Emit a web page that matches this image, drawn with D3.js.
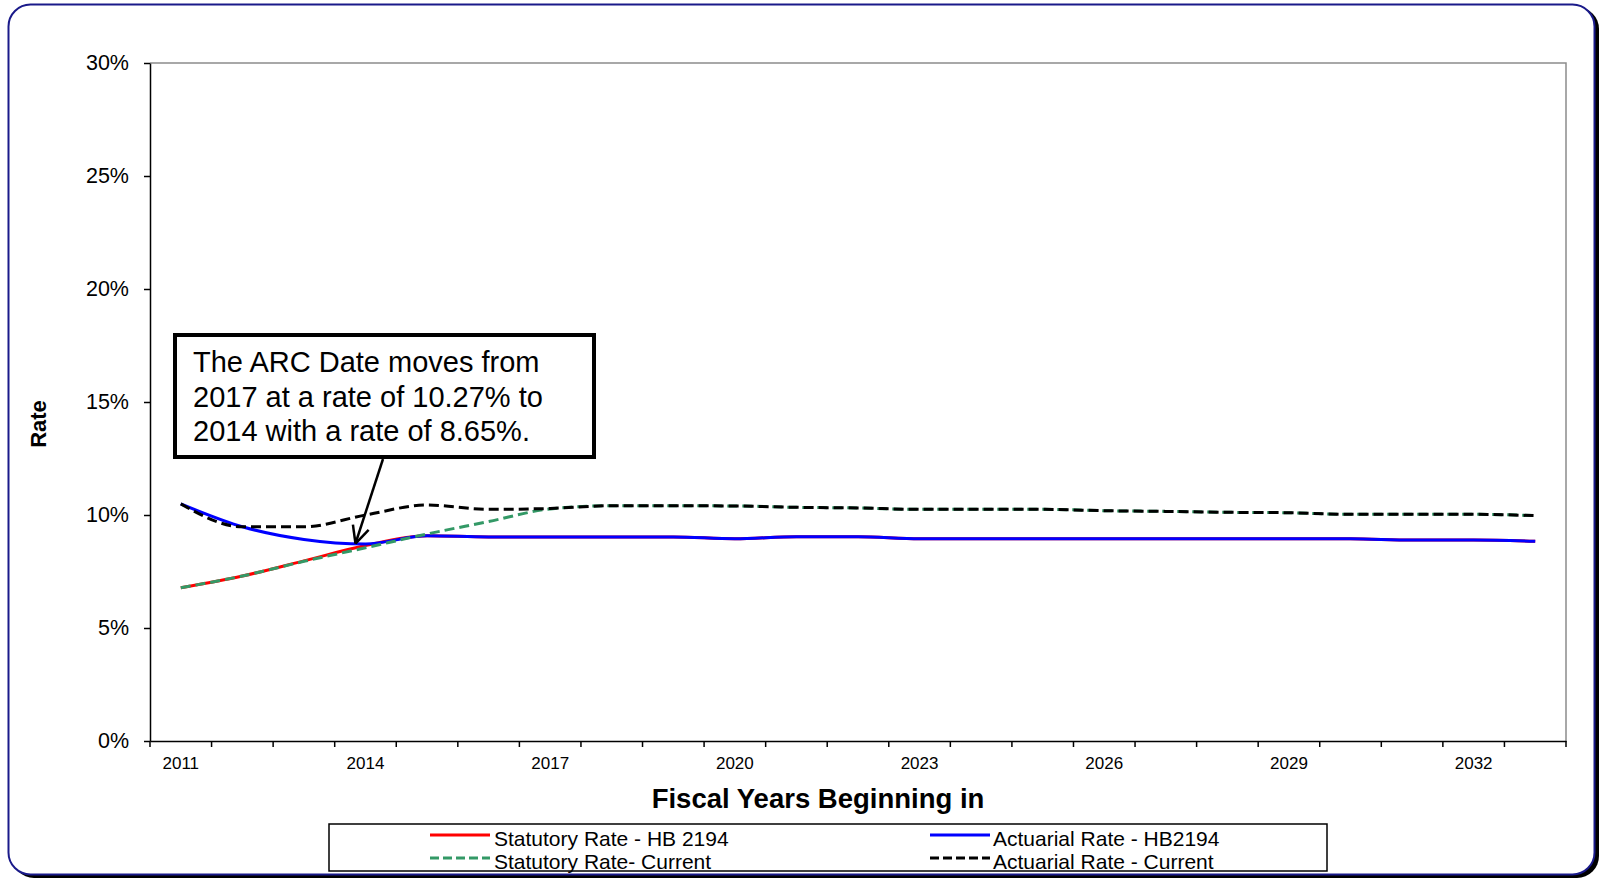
<!DOCTYPE html>
<html><head><meta charset="utf-8">
<script src="https://cdn.jsdelivr.net/npm/d3@7"></script>
<style>
html,body{margin:0;padding:0;background:#fff;}
text{font-family:Arial,"Liberation Sans",Helvetica,sans-serif;}
</style></head>
<body>
<svg id="chart" width="1603" height="878"></svg>
<script>
const years = [2011,2012,2013,2014,2015,2016,2017,2018,2019,2020,2021,2022,2023,2024,2025,2026,2027,2028,2029,2030,2031,2032,2033];
const statutoryHB = [6.78,7.30,7.97,8.65,9.08,9.03,9.03,9.03,9.03,8.95,9.04,9.04,8.95,8.95,8.95,8.95,8.95,8.95,8.95,8.95,8.89,8.89,8.84];
const actuarialHB = [10.49,9.48,8.92,8.72,9.08,9.03,9.03,9.03,9.03,8.95,9.04,9.04,8.95,8.95,8.95,8.95,8.95,8.95,8.95,8.95,8.89,8.89,8.84];
const statutoryCur = [6.78,7.30,7.95,8.55,9.16,9.71,10.27,10.41,10.41,10.40,10.34,10.31,10.25,10.25,10.25,10.19,10.16,10.12,10.10,10.03,10.03,10.03,9.97];
const actuarialCur = [10.49,9.48,9.48,10.00,10.44,10.25,10.29,10.41,10.41,10.40,10.34,10.31,10.25,10.25,10.25,10.19,10.16,10.12,10.10,10.03,10.03,10.03,9.97];
const yTicks = [0,5,10,15,20,25,30];
const xLabelYears = [2011,2014,2017,2020,2023,2026,2029,2032];
const seriesNames = ["Statutory Rate - HB 2194","Actuarial Rate - HB2194","Statutory Rate- Current","Actuarial Rate - Current"];
const annotationLines = ["The ARC Date moves from","2017 at a rate of 10.27% to","2014 with a rate of 8.65%."];
const annotationYear = 2014;
const annotationValue = 8.65;

const svg = d3.select("#chart");
const L = 150, R = 1566, T = 63, B = 741;

// outer frame with shadow
svg.append("rect").attr("x",12).attr("y",7).attr("width",1587).attr("height",871)
  .attr("rx",22).attr("fill","#000");
svg.append("rect").attr("x",8.5).attr("y",4.5).attr("width",1586).attr("height",870)
  .attr("rx",22).attr("fill","#fff").attr("stroke","#1a1a8a").attr("stroke-width",2);

const x = d3.scaleBand().domain(years).range([L,R]);
const bw = x.bandwidth();
const cx = d => x(d) + bw/2;
const y = d3.scaleLinear().domain([0,30]).range([B,T]);

// plot area border (top/right gray)
svg.append("path").attr("d",`M${L},${T}H${R}V${B}`).attr("fill","none")
  .attr("stroke","#8c8c8c").attr("stroke-width",1.5);

// y axis
const yAxis = svg.append("g").attr("transform",`translate(${L},0)`)
  .call(d3.axisLeft(y).tickValues(yTicks).tickFormat(d=>d+"%").tickSize(6).tickSizeOuter(0));
yAxis.select(".domain").attr("stroke","#000").attr("stroke-width",1.5);
yAxis.selectAll(".tick line").attr("stroke","#000").attr("stroke-width",1.5);
yAxis.selectAll(".tick text").attr("font-size",21.5).attr("fill","#000").attr("x",-21)
  .attr("font-family","Arial, 'Liberation Sans', sans-serif");

// x axis
const xAxis = svg.append("g").attr("transform",`translate(0,${B})`)
  .call(d3.axisBottom(x).tickValues(xLabelYears).tickSize(0).tickSizeOuter(0).tickPadding(16));
xAxis.select(".domain").attr("stroke","#000").attr("stroke-width",1.5);
xAxis.selectAll(".tick text").attr("font-size",17).attr("fill","#000")
  .attr("font-family","Arial, 'Liberation Sans', sans-serif");
const bounds = years.map(d=>x(d)).concat([R]);
svg.append("g").selectAll("line").data(bounds).join("line")
  .attr("x1",d=>d).attr("x2",d=>d).attr("y1",B).attr("y2",B+6)
  .attr("stroke","#000").attr("stroke-width",1.5);

// titles
svg.append("text").attr("x",818).attr("y",808).attr("text-anchor","middle")
  .attr("font-size",27.5).attr("font-weight","bold").text("Fiscal Years Beginning in");
svg.append("text").attr("transform","translate(46,424) rotate(-90)").attr("text-anchor","middle")
  .attr("font-size",22).attr("font-weight","bold").text("Rate");

// series
const line = d3.line().x((d,i)=>cx(years[i])).y(d=>y(d)).curve(d3.curveMonotoneX);
const series = [
  {vals:statutoryHB, color:"#ff0000", dash:null},
  {vals:actuarialHB, color:"#0000ff", dash:null},
  {vals:statutoryCur, color:"#339966", dash:"10,5"},
  {vals:actuarialCur, color:"#000000", dash:"10,5"}
];
svg.append("g").selectAll("path").data(series).join("path")
  .attr("d",d=>line(d.vals)).attr("fill","none").attr("stroke",d=>d.color)
  .attr("stroke-width",3).attr("stroke-dasharray",d=>d.dash);

// annotation
svg.append("rect").attr("x",175).attr("y",335).attr("width",419).attr("height",122)
  .attr("fill","#fff").attr("stroke","#000").attr("stroke-width",4);
svg.append("g").selectAll("text").data(annotationLines).join("text")
  .attr("x",193).attr("y",(d,i)=>372+i*34.5).attr("font-size",29).attr("fill","#000").text(d=>d);
const tip = [cx(annotationYear)-10, y(annotationValue)-2];
const start = [383,459];
svg.append("line").attr("x1",start[0]).attr("y1",start[1]).attr("x2",tip[0]).attr("y2",tip[1])
  .attr("stroke","#000").attr("stroke-width",2.5);
const ang = Math.atan2(start[1]-tip[1], start[0]-tip[0]);
[-0.45,0.45].forEach(a=>{
  svg.append("line").attr("x1",tip[0]).attr("y1",tip[1])
    .attr("x2",tip[0]+19*Math.cos(ang+a)).attr("y2",tip[1]+19*Math.sin(ang+a))
    .attr("stroke","#000").attr("stroke-width",2.5);
});

// legend
svg.append("rect").attr("x",329).attr("y",824).attr("width",998).attr("height",47)
  .attr("fill","#fff").attr("stroke","#000").attr("stroke-width",1.5);
const legPos = [[430,835],[930,835],[430,858],[930,858]];
const lg = svg.append("g").selectAll("g").data(series).join("g")
  .attr("transform",(d,i)=>`translate(${legPos[i][0]},${legPos[i][1]})`);
lg.append("line").attr("x1",0).attr("x2",60).attr("stroke",d=>d.color).attr("stroke-width",3)
  .attr("stroke-dasharray",d=>d.dash?"9,4":null);
lg.append("text").attr("x",(d,i)=>i%2?63:64).attr("y",11).attr("font-size",21).attr("fill","#000")
  .text((d,i)=>seriesNames[i]);
</script>
</body></html>
